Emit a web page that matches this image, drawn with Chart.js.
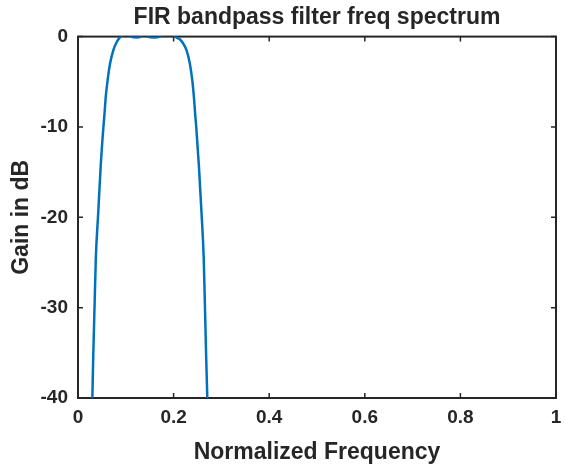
<!DOCTYPE html>
<html>
<head>
<meta charset="utf-8">
<title>FIR bandpass filter freq spectrum</title>
<script src="https://cdn.jsdelivr.net/npm/chart.js@4.4.1/dist/chart.umd.min.js"></script>
<style>
  html, body { margin: 0; padding: 0; background: #ffffff; }
  #wrap { width: 565px; height: 468px; }
</style>
</head>
<body>
<div id="wrap"><canvas id="chart" width="565" height="468"></canvas></div>
<script>
// Valores (frecuencia normalizada, ganancia en dB)
const freq = [
  0.027, 0.030, 0.032, 0.0347, 0.0373, 0.0422, 0.0474, 0.053, 0.0555, 0.058,
  0.062, 0.067, 0.074, 0.081, 0.086, 0.090, 0.094, 0.0995, 0.106, 0.111,
  0.1215, 0.132, 0.135, 0.139, 0.143, 0.146, 0.1585, 0.171, 0.177, 0.187,
  0.197, 0.203, 0.208, 0.213, 0.218, 0.227, 0.234, 0.239, 0.2425, 0.245,
  0.2475, 0.253, 0.2585, 0.263, 0.2655, 0.268, 0.2705, 0.273,
];
const gain = [
  -47, -40, -35.2, -29.7, -24.5, -19.6, -14.4, -10.1, -8.5, -6.7,
  -4.8, -3.0, -1.5, -0.6, -0.2, 0.0, 0.2, 0.4, 0.2, 0.0,
  -0.1, 0.0, 0.15, 0.25, 0.15, 0.0, -0.1, 0.0, 0.3, 0.5,
  0.3, 0.0, -0.15, -0.3, -0.6, -1.5, -3.0, -4.8, -6.7, -8.5,
  -10.1, -14.4, -19.6, -24.5, -29.7, -35.2, -40, -46,
];
const xTickLabels = ['0', '0.2', '0.4', '0.6', '0.8', '1'];
const yTickLabels = ['-40', '-30', '-20', '-10', '0'];

const TEXT = '#262626';
const LINE = '#0072BD';
const TICK_LEN = 5;

Chart.defaults.font.family = '"Liberation Sans", Arial, Helvetica, sans-serif';
Chart.defaults.color = TEXT;

// Caja completa con marcas hacia dentro (estilo MATLAB)
const boxTicks = {
  id: 'boxTicks',
  beforeDatasetsDraw(chart) {
    const { ctx, chartArea: a, scales: { x, y } } = chart;
    ctx.save();
    ctx.strokeStyle = TEXT;
    ctx.lineWidth = 1.5;
    ctx.beginPath();
    x.ticks.forEach(t => {
      const px = x.getPixelForValue(t.value);
      ctx.moveTo(px, a.bottom); ctx.lineTo(px, a.bottom - TICK_LEN);
      ctx.moveTo(px, a.top); ctx.lineTo(px, a.top + TICK_LEN);
    });
    y.ticks.forEach(t => {
      const py = y.getPixelForValue(t.value);
      ctx.moveTo(a.left, py); ctx.lineTo(a.left + TICK_LEN, py);
      ctx.moveTo(a.right, py); ctx.lineTo(a.right - TICK_LEN, py);
    });
    ctx.stroke();
    ctx.lineWidth = 2;
    ctx.strokeRect(a.left, a.top, a.right - a.left, a.bottom - a.top);
    ctx.restore();
  },
};

new Chart(document.getElementById('chart').getContext('2d'), {
  type: 'line',
  data: {
    datasets: [{
      label: 'Gain',
      data: freq.map((f, i) => ({ x: f, y: gain[i] })),
      borderColor: LINE,
      borderWidth: 2.5,
      pointRadius: 0,
      cubicInterpolationMode: 'monotone',
      fill: false,
    }],
  },
  options: {
    responsive: false,
    animation: false,
    layout: { padding: { left: 0, right: 9, top: 0, bottom: 0 } },
    plugins: {
      legend: { display: false },
      tooltip: { enabled: false },
      title: {
        display: true,
        text: 'FIR bandpass filter freq spectrum',
        fullSize: false,
        color: TEXT,
        font: { size: 23, weight: 'bold' },
        padding: { top: 4, bottom: 5 },
      },
    },
    scales: {
      x: {
        type: 'linear',
        min: 0,
        max: 1,
        grid: { display: false, drawTicks: false },
        border: { display: false },
        ticks: {
          stepSize: 0.2,
          padding: 8,
          color: TEXT,
          font: { size: 19, weight: 'bold' },
          maxRotation: 0,
          callback: (v, i) => xTickLabels[i],
        },
        title: {
          display: true,
          text: 'Normalized Frequency',
          color: TEXT,
          font: { size: 23, weight: 'bold' },
          padding: { top: 0, bottom: 2 },
        },
        afterFit: s => { s.height = 70; s.paddingLeft = 0; s.paddingRight = 0; },
      },
      y: {
        min: -40,
        max: 0,
        grid: { display: false, drawTicks: false },
        border: { display: false },
        ticks: {
          stepSize: 10,
          padding: 10,
          color: TEXT,
          font: { size: 19, weight: 'bold' },
          callback: (v, i) => yTickLabels[i],
        },
        title: {
          display: true,
          text: 'Gain in dB',
          color: TEXT,
          font: { size: 23, weight: 'bold' },
          padding: { top: 8, bottom: 0 },
        },
        afterFit: s => { s.width = 78; s.paddingTop = 0; s.paddingBottom = 0; },
      },
    },
  },
  plugins: [boxTicks],
});
</script>
</body>
</html>
